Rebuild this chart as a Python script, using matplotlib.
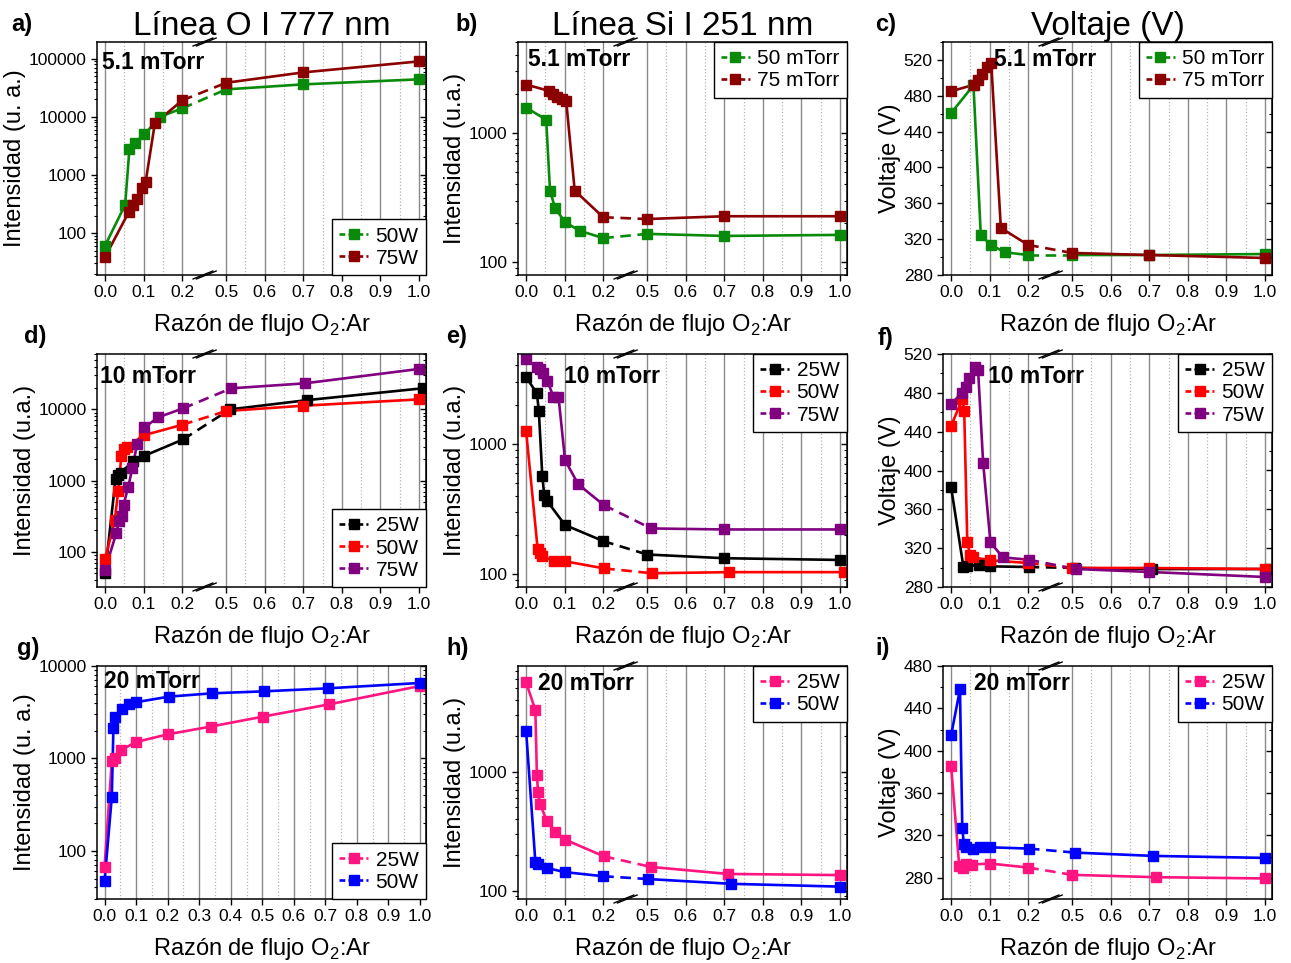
import numpy as np
import matplotlib
matplotlib.use("Agg")
import matplotlib.pyplot as plt
from matplotlib import ticker
from matplotlib.lines import Line2D

plt.rcParams["font.family"] = ["Liberation Sans", "DejaVu Sans"]
plt.rcParams["mathtext.fontset"] = "custom"
plt.rcParams["mathtext.rm"] = "Liberation Sans"

# ---- data ----
# a) O I 777 nm, 5.1 mTorr
a_x_50 = [0.0, 0.052, 0.063, 0.077, 0.102, 0.142, 0.2, 0.5, 0.7, 1.0]
a_y_50 = [61, 307, 2770, 3600, 5000, 10000, 14000, 29700, 36200, 44200]
a_x_75 = [0.0, 0.061, 0.073, 0.083, 0.096, 0.105, 0.129, 0.2, 0.5, 0.7, 1.0]
a_y_75 = [39, 227, 307, 384, 593, 752, 7740, 19200, 38600, 58200, 90000]

# b) Si I 251 nm, 5.1 mTorr
b_x_50 = [0.0, 0.052, 0.062, 0.075, 0.101, 0.14, 0.2, 0.5, 0.7, 1.0]
b_y_50 = [1560, 1260, 358, 263, 204, 175, 154, 166, 160, 163]
b_x_75 = [0.0, 0.059, 0.07, 0.08, 0.093, 0.104, 0.126, 0.2, 0.5, 0.7, 1.0]
b_y_75 = [2350, 2100, 2000, 1890, 1820, 1750, 358, 223, 216, 227, 227]

# c) voltage, 5.1 mTorr
c_x_50 = [0.0, 0.058, 0.077, 0.103, 0.14, 0.2, 0.5, 0.7, 1.0]
c_y_50 = [460.7, 491.7, 324.7, 313.5, 305.3, 302.3, 302.3, 302.3, 303.4]
c_x_75 = [0.0, 0.06, 0.071, 0.08, 0.092, 0.104, 0.129, 0.2, 0.5, 0.7, 1.0]
c_y_75 = [485, 492.4, 498, 504.7, 512.2, 517, 332.5, 313.5, 304.6, 302.3, 299]

# d) O I 777 nm, 10 mTorr
d_x_25 = [0.0, 0.027, 0.033, 0.04, 0.073, 0.101, 0.205, 0.51, 0.71, 1.01]
d_y_25 = [50, 1040, 1190, 1280, 1870, 2220, 3780, 10000, 13500, 19800]
d_x_50 = [0.0, 0.025, 0.034, 0.042, 0.048, 0.056, 0.102, 0.2, 0.5, 0.7, 1.0]
d_y_50 = [79, 276, 714, 2200, 2820, 2980, 4360, 6080, 9480, 11270, 13830]
d_x_75 = [0.0, 0.029, 0.036, 0.043, 0.048, 0.06, 0.071, 0.083, 0.102, 0.137, 0.205, 0.513, 0.703, 1.0]
d_y_75 = [56, 183, 270, 318, 459, 815, 1525, 3280, 5570, 7710, 10330, 19770, 23200, 37000]

# e) Si I 251 nm, 10 mTorr
e_x_25 = [0.0, 0.028, 0.033, 0.042, 0.047, 0.054, 0.101, 0.2, 0.5, 0.7, 1.0]
e_y_25 = [3250, 2450, 1790, 568, 406, 367, 239, 180, 142, 133, 129]
e_x_50 = [0.0, 0.03, 0.035, 0.041, 0.072, 0.101, 0.207, 0.513, 0.713, 1.01]
e_y_50 = [1260, 156, 145, 139, 126, 126, 111, 102, 104, 104]
e_x_75 = [0.0, 0.027, 0.035, 0.043, 0.055, 0.071, 0.084, 0.101, 0.135, 0.204, 0.51, 0.7, 1.0]
e_y_75 = [4470, 3920, 3740, 3480, 3060, 2300, 2300, 753, 491, 340, 225, 221, 221]

# f) voltage, 10 mTorr
f_x_25 = [0.0, 0.032, 0.042, 0.073, 0.1, 0.203, 0.507, 0.708, 1.01]
f_y_25 = [382.9, 300.6, 301.3, 303, 301.3, 300.6, 299.6, 298.5, 298.5]
f_x_50 = [0.0, 0.029, 0.034, 0.042, 0.049, 0.058, 0.102, 0.2, 0.5, 0.7, 1.0]
f_y_50 = [446, 473.4, 461.4, 326.3, 313.3, 310.5, 307.5, 304.7, 299.6, 299.6, 298.5]
f_x_75 = [0.0, 0.029, 0.038, 0.047, 0.062, 0.07, 0.083, 0.102, 0.134, 0.203, 0.51, 0.7, 1.0]
f_y_75 = [468.6, 480.2, 485.7, 495, 507, 503.5, 408.2, 326, 310.5, 308.1, 298.5, 295.5, 290.3]

# g) O I 777 nm, 20 mTorr (no axis break)
g_x_25 = [0.0, 0.023, 0.032, 0.052, 0.099, 0.2, 0.337, 0.502, 0.713, 1.0]
g_y_25 = [67, 940, 1005, 1225, 1500, 1820, 2210, 2830, 3850, 6080]
g_x_50 = [0.0, 0.023, 0.028, 0.034, 0.055, 0.078, 0.099, 0.204, 0.34, 0.507, 0.707, 1.0]
g_y_50 = [47, 384, 2150, 2830, 3400, 3850, 4050, 4660, 5060, 5320, 5730, 6550]

# h) Si I 251 nm, 20 mTorr
h_x_25 = [0.0, 0.024, 0.028, 0.031, 0.036, 0.054, 0.076, 0.101, 0.205, 0.51, 0.709, 1.0]
h_y_25 = [5610, 3290, 931, 667, 536, 381, 310, 268, 194, 158, 138, 135]
h_x_50 = [0.0, 0.024, 0.031, 0.054, 0.1, 0.2, 0.503, 0.718, 1.0]
h_y_50 = [2210, 174, 168, 155, 143, 132, 125, 114, 108]

# i) voltage, 20 mTorr
i_x_25 = [0.0, 0.021, 0.03, 0.038, 0.053, 0.1, 0.2, 0.5, 0.716, 1.0]
i_y_25 = [386, 291.3, 289.7, 292.9, 292.5, 293.5, 289.7, 282.8, 280.6, 279.4]
i_x_50 = [0.0, 0.023, 0.029, 0.033, 0.038, 0.056, 0.074, 0.102, 0.205, 0.508, 0.709, 1.0]
i_y_50 = [414.5, 458, 327.3, 312.3, 308.8, 307.6, 308.8, 308.8, 307.6, 303.8, 300.7, 298.8]

GREEN = "#0a8a0a"
DARKRED = "#8b0000"
BLACK = "#000000"
RED = "#ff0000"
PURPLE = "#800080"
PINK = "#ff1480"
BLUE = "#0000ff"

XLABEL = r"Razón de flujo O$_2$:Ar"

# ---- broken x axis: 0.2..0.5 squeezed ----
SQ = 0.38


def fwd(x):
    x = np.asarray(x, dtype=float)
    return np.where(x <= 0.2, x, np.where(x >= 0.5, x - 0.3 + 0.3 * SQ, 0.2 + (x - 0.2) * SQ))


def inv(d):
    d = np.asarray(d, dtype=float)
    top = 0.2 + 0.3 * SQ
    return np.where(d <= 0.2, d, np.where(d >= top, d + 0.3 - 0.3 * SQ, 0.2 + (d - 0.2) / SQ))


D_LEFT, D_RIGHT = -0.021, 0.832


def add_axes(fig, left_px, top_px):
    W, H = 1291.0, 963.0
    w_px, h_px = 329.0, 233.0
    return fig.add_axes([left_px / W, 1 - (top_px + h_px) / H, w_px / W, h_px / H])


def style_axes(ax, broken, log, yticks, yminor=None):
    if broken:
        ax.set_xscale("function", functions=(fwd, inv))
        ax.set_xlim(float(inv(D_LEFT)), float(inv(D_RIGHT)))
        major = [0.0, 0.1, 0.2, 0.5, 0.6, 0.7, 0.8, 0.9, 1.0]
        minor = [0.05, 0.15, 0.55, 0.65, 0.75, 0.85, 0.95]
    else:
        ax.set_xlim(-0.024, 1.019)
        major = list(np.round(np.arange(0, 1.01, 0.1), 2))
        minor = list(np.round(np.arange(0.05, 1.0, 0.1), 2))
    ax.xaxis.set_major_locator(ticker.FixedLocator(major))
    ax.xaxis.set_minor_locator(ticker.FixedLocator(minor))
    ax.xaxis.set_major_formatter(ticker.FuncFormatter(lambda v, p: f"{v:.1f}"))
    ax.grid(True, axis="x", which="major", color="#8a8a8a", lw=1.0, zorder=0)
    ax.grid(True, axis="x", which="minor", color="#b5b5b5", lw=0.9, ls=":", zorder=0)

    if log:
        ax.set_yscale("log")
        ax.yaxis.set_major_locator(ticker.FixedLocator(yticks))
        ax.yaxis.set_minor_locator(ticker.LogLocator(base=10, subs=np.arange(2, 10)))
        ax.yaxis.set_minor_formatter(ticker.NullFormatter())
    else:
        ax.yaxis.set_major_locator(ticker.FixedLocator(yticks))
        ax.yaxis.set_minor_locator(ticker.FixedLocator(yminor))
    ax.yaxis.set_major_formatter(ticker.FuncFormatter(lambda v, p: f"{v:g}"))

    ax.tick_params(axis="both", which="major", labelsize=12.5, direction="out",
                   length=4.5, width=1, pad=3)
    ax.tick_params(axis="y", which="minor", direction="out", length=2.5, width=0.8)
    ax.tick_params(axis="x", which="minor", length=0)
    for s in ax.spines.values():
        s.set_linewidth(1.1)
        s.set_zorder(5)

    sec = ax.secondary_yaxis("right")
    sec.tick_params(axis="y", which="major", direction="in", length=4.5, width=1,
                    labelright=False)
    sec.tick_params(axis="y", which="minor", direction="in", length=2.5, width=0.8)
    sec.yaxis.set_major_locator(ticker.FixedLocator(yticks))
    if log:
        sec.yaxis.set_minor_locator(ticker.LogLocator(base=10, subs=np.arange(2, 10)))
    else:
        sec.yaxis.set_minor_locator(ticker.FixedLocator(yminor))
    sec.yaxis.set_major_formatter(ticker.NullFormatter())
    sec.yaxis.set_minor_formatter(ticker.NullFormatter())

    ax.set_xlabel(XLABEL, fontsize=17, labelpad=8)

    if broken:
        # little "//" marks on top and bottom spines
        f = (0.258 - D_LEFT) / (D_RIGHT - D_LEFT)
        for yb in (0.0, 1.0):
            for off in (-0.005, 0.005):
                ax.plot([f + off - 0.03, f + off + 0.03], [yb - 0.017, yb + 0.017],
                        color="black", lw=1.0, transform=ax.transAxes,
                        clip_on=False, zorder=6)


def plot_series(ax, xs, ys, color, broken):
    xs = np.asarray(xs)
    ys = np.asarray(ys)
    kw = dict(color=color, lw=1.9, solid_capstyle="butt", zorder=2)
    if broken:
        left = xs < 0.3
        ax.plot(xs[left], ys[left], **kw)
        ax.plot(xs[~left], ys[~left], **kw)
        i = np.where(left)[0][-1]
        ax.plot(xs[i:i + 2], ys[i:i + 2], ls=(0, (4, 2.5)), **kw)
    else:
        ax.plot(xs, ys, **kw)
    ax.plot(xs, ys, ls="none", marker="s", ms=7.2, mfc=color, mec=color, zorder=3)


def add_legend(ax, labels, colors, loc):
    handles = [Line2D([], [], color=c, lw=1.9, ls=(0, (2.2, 1.2)), marker="s",
                      ms=7.2, mfc=c, mec=c) for c in colors]
    leg = ax.legend(handles, labels, loc=loc, fontsize=15, frameon=True,
                    fancybox=False, framealpha=1, edgecolor="black",
                    borderaxespad=0, labelspacing=0.15, handlelength=1.4,
                    handletextpad=0.35, borderpad=0.35)
    leg.get_frame().set_linewidth(1.0)
    leg.set_zorder(10)


def panel(fig, left_px, top_px, letter, series, labels, broken, log, yticks,
          ylim, ylabel, note, note_xy, legend_loc, yminor=None, title=None):
    ax = add_axes(fig, left_px, top_px)
    for xs, ys, c in series:
        plot_series(ax, xs, ys, c, broken)
    style_axes(ax, broken, log, yticks, yminor)
    ax.set_ylim(*ylim)
    ax.set_ylabel(ylabel, fontsize=17, labelpad=2)
    ax.text(note_xy[0], note_xy[1], note, transform=ax.transAxes, fontsize=16.5,
            fontweight="bold", va="center", ha="left", zorder=8)
    add_legend(ax, labels, [s[2] for s in series], legend_loc)
    if title:
        ax.set_title(title, fontsize=24, pad=-2)
    return ax


def main():
    fig = plt.figure(figsize=(12.91, 9.63), dpi=100)

    cols = [97, 518, 943]
    rows = [42, 354, 666]
    ylab_i = "Intensidad (u.a.)"
    ylab_v = "Voltaje (V)"

    panel(fig, cols[0], rows[0], "a)",
          [(a_x_50, a_y_50, GREEN), (a_x_75, a_y_75, DARKRED)], ["50W", "75W"],
          True, True, [100, 1000, 10000, 100000], (19, 1.94e5),
          "Intensidad (u. a.)", "5.1 mTorr", (0.015, 0.91), "lower right",
          title="Línea O I 777 nm")
    panel(fig, cols[1], rows[0], "b)",
          [(b_x_50, b_y_50, GREEN), (b_x_75, b_y_75, DARKRED)],
          ["50 mTorr", "75 mTorr"], True, True, [100, 1000], (80, 5000),
          ylab_i, "5.1 mTorr", (0.03, 0.925), "upper right",
          title="Línea Si I 251 nm")
    panel(fig, cols[2], rows[0], "c)",
          [(c_x_50, c_y_50, GREEN), (c_x_75, c_y_75, DARKRED)],
          ["50 mTorr", "75 mTorr"], True, False, list(range(280, 521, 40)),
          (280, 540), ylab_v, "5.1 mTorr", (0.155, 0.925), "upper right",
          yminor=list(range(300, 541, 40)), title="Voltaje (V)")

    panel(fig, cols[0], rows[1], "d)",
          [(d_x_25, d_y_25, BLACK), (d_x_50, d_y_50, RED), (d_x_75, d_y_75, PURPLE)],
          ["25W", "50W", "75W"], True, True, [100, 1000, 10000], (32, 60000),
          ylab_i, "10 mTorr", (0.01, 0.905), "lower right")
    panel(fig, cols[1], rows[1], "e)",
          [(e_x_25, e_y_25, BLACK), (e_x_50, e_y_50, RED), (e_x_75, e_y_75, PURPLE)],
          ["25W", "50W", "75W"], True, True, [100, 1000], (80, 4900),
          ylab_i, "10 mTorr", (0.14, 0.905), "upper right")
    panel(fig, cols[2], rows[1], "f)",
          [(f_x_25, f_y_25, BLACK), (f_x_50, f_y_50, RED), (f_x_75, f_y_75, PURPLE)],
          ["25W", "50W", "75W"], True, False, list(range(280, 521, 40)),
          (280, 520), ylab_v, "10 mTorr", (0.137, 0.905), "upper right",
          yminor=list(range(300, 521, 40)))

    panel(fig, cols[0], rows[2], "g)",
          [(g_x_25, g_y_25, PINK), (g_x_50, g_y_50, BLUE)], ["25W", "50W"],
          False, True, [100, 1000, 10000], (30, 10000),
          "Intensidad (u. a.)", "20 mTorr", (0.022, 0.935), "lower right")
    panel(fig, cols[1], rows[2], "h)",
          [(h_x_25, h_y_25, PINK), (h_x_50, h_y_50, BLUE)], ["25W", "50W"],
          True, True, [100, 1000], (85, 7700),
          ylab_i, "20 mTorr", (0.062, 0.925), "upper right")
    panel(fig, cols[2], rows[2], "i)",
          [(i_x_25, i_y_25, PINK), (i_x_50, i_y_50, BLUE)], ["25W", "50W"],
          True, False, list(range(280, 481, 40)), (260, 480),
          ylab_v, "20 mTorr", (0.095, 0.925), "upper right",
          yminor=list(range(260, 481, 40)))

    letters = [("a)", 22, 25), ("b)", 467, 25), ("c)", 886, 25),
               ("d)", 35, 336), ("e)", 457, 336), ("f)", 885, 338),
               ("g)", 28, 648), ("h)", 458, 648), ("i)", 883, 648)]
    for txt, xp, yp in letters:
        fig.text(xp / 1291, 1 - yp / 963, txt, fontsize=17, fontweight="bold",
                 ha="center", va="center")

    fig.savefig("out.png", dpi=100)


if __name__ == "__main__":
    main()
